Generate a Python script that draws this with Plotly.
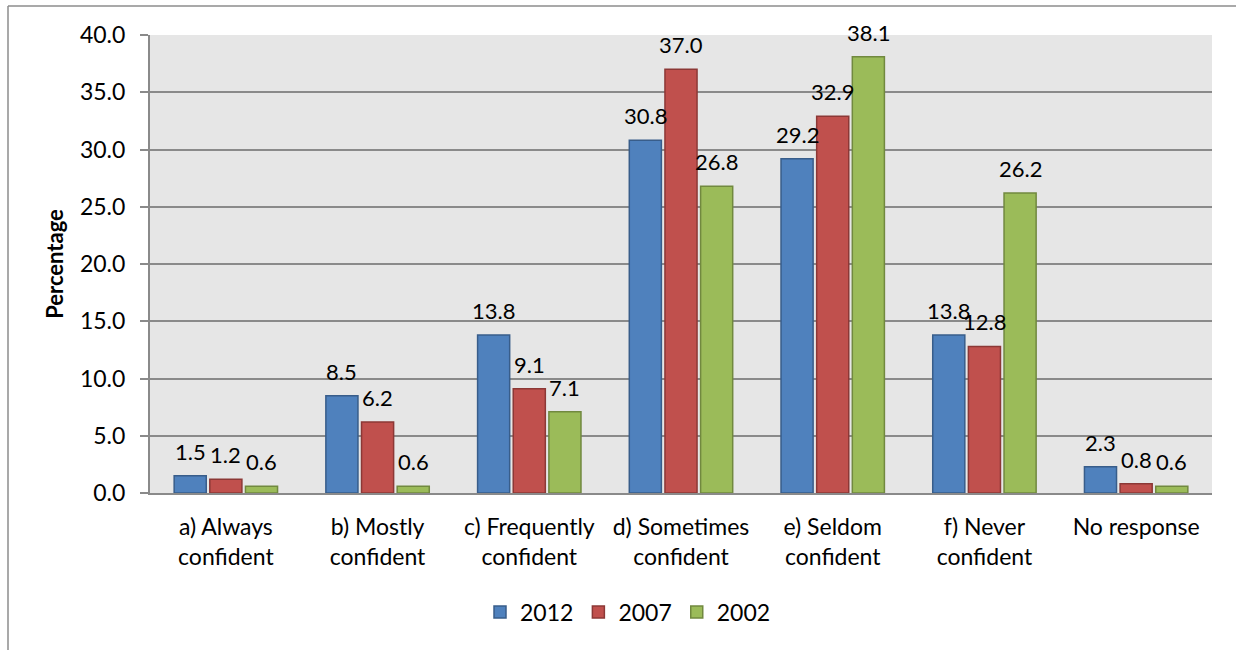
import plotly.graph_objects as go

categories = [
    "a) Always<br>confident",
    "b) Mostly<br>confident",
    "c) Frequently<br>confident",
    "d) Sometimes<br>confident",
    "e) Seldom<br>confident",
    "f) Never<br>confident",
    "No response",
]
values_2012 = [1.5, 8.5, 13.8, 30.8, 29.2, 13.8, 2.3]
values_2007 = [1.2, 6.2, 9.1, 37.0, 32.9, 12.8, 0.8]
values_2002 = [0.6, 0.6, 7.1, 26.8, 38.1, 26.2, 0.6]
y_ticks = [0, 5, 10, 15, 20, 25, 30, 35, 40]

series = [
    ("2012", values_2012, "#4F81BD", "#385D8A"),
    ("2007", values_2007, "#C0504D", "#8C3836"),
    ("2002", values_2002, "#9BBB59", "#71893F"),
]

FONT = "Lato, 'Open Sans', sans-serif"
FS = 23
LABEL_FS = 22

L, R, T, B = 150, 24, 35, 157
W, H = 1236 - L - R, 650 - T - B
BARGAP = 0.295
slot_px = W / len(categories) * (1 - BARGAP) / len(series)

fig = go.Figure()
for i, (name, vals, fill, edge) in enumerate(series):
    fig.add_trace(go.Bar(
        x=categories,
        y=vals,
        name=name,
        marker=dict(color=fill, line=dict(color=edge, width=1.5)),
    ))
    # value labels sitting above each bar
    for cat, v in zip(categories, vals):
        fig.add_annotation(
            x=cat, y=v, xref="x", yref="y",
            text=f"{v:.1f}", showarrow=False,
            xanchor="center", yanchor="bottom",
            xshift=(i - 1) * slot_px, yshift=9,
            font=dict(size=LABEL_FS, color="#000000", family=FONT),
        )

def px_x(p):
    return (p - L) / W
def px_y(p):
    return (650 - B - p) / H

# outer chart frame (top and left edges visible)
fig.add_shape(type="line", xref="paper", yref="paper",
              x0=px_x(8), x1=px_x(1236), y0=px_y(6), y1=px_y(6),
              line=dict(color="#8C8C8C", width=1.5))
fig.add_shape(type="line", xref="paper", yref="paper",
              x0=px_x(8), x1=px_x(8), y0=px_y(6), y1=px_y(650),
              line=dict(color="#8C8C8C", width=1.5))

fig.update_layout(
    width=1236, height=650,
    margin=dict(l=L, r=R, t=T, b=B),
    paper_bgcolor="#FFFFFF",
    plot_bgcolor="#E6E6E6",
    barmode="group",
    bargap=BARGAP,
    bargroupgap=0.1,
    font=dict(family=FONT, size=FS, color="#000000"),
    showlegend=True,
    legend=dict(
        orientation="h",
        x=px_x(628), xanchor="center",
        y=px_y(612), yanchor="middle",
        font=dict(size=FS),
        itemwidth=30,
        traceorder="normal",
    ),
    yaxis=dict(
        range=[0, 40],
        tickvals=y_ticks,
        tickformat=".1f",
        showgrid=True,
        gridcolor="#8A8A8A",
        gridwidth=2,
        zeroline=False,
        showline=True,
        linecolor="#8A8A8A",
        linewidth=2,
        ticks="outside",
        ticklen=8,
        tickcolor="#8A8A8A",
        tickwidth=2,
        ticklabelstandoff=10,
        tickfont=dict(size=FS),
        title=dict(text="<b>Percentage</b>", font=dict(size=22), standoff=10),
    ),
    xaxis=dict(
        showline=True,
        linecolor="#8A8A8A",
        linewidth=2,
        showgrid=False,
        ticks="",
        tickfont=dict(size=FS),
        tickangle=0,
        ticklabelstandoff=12,
    ),
)

fig.write_html("out.html")
